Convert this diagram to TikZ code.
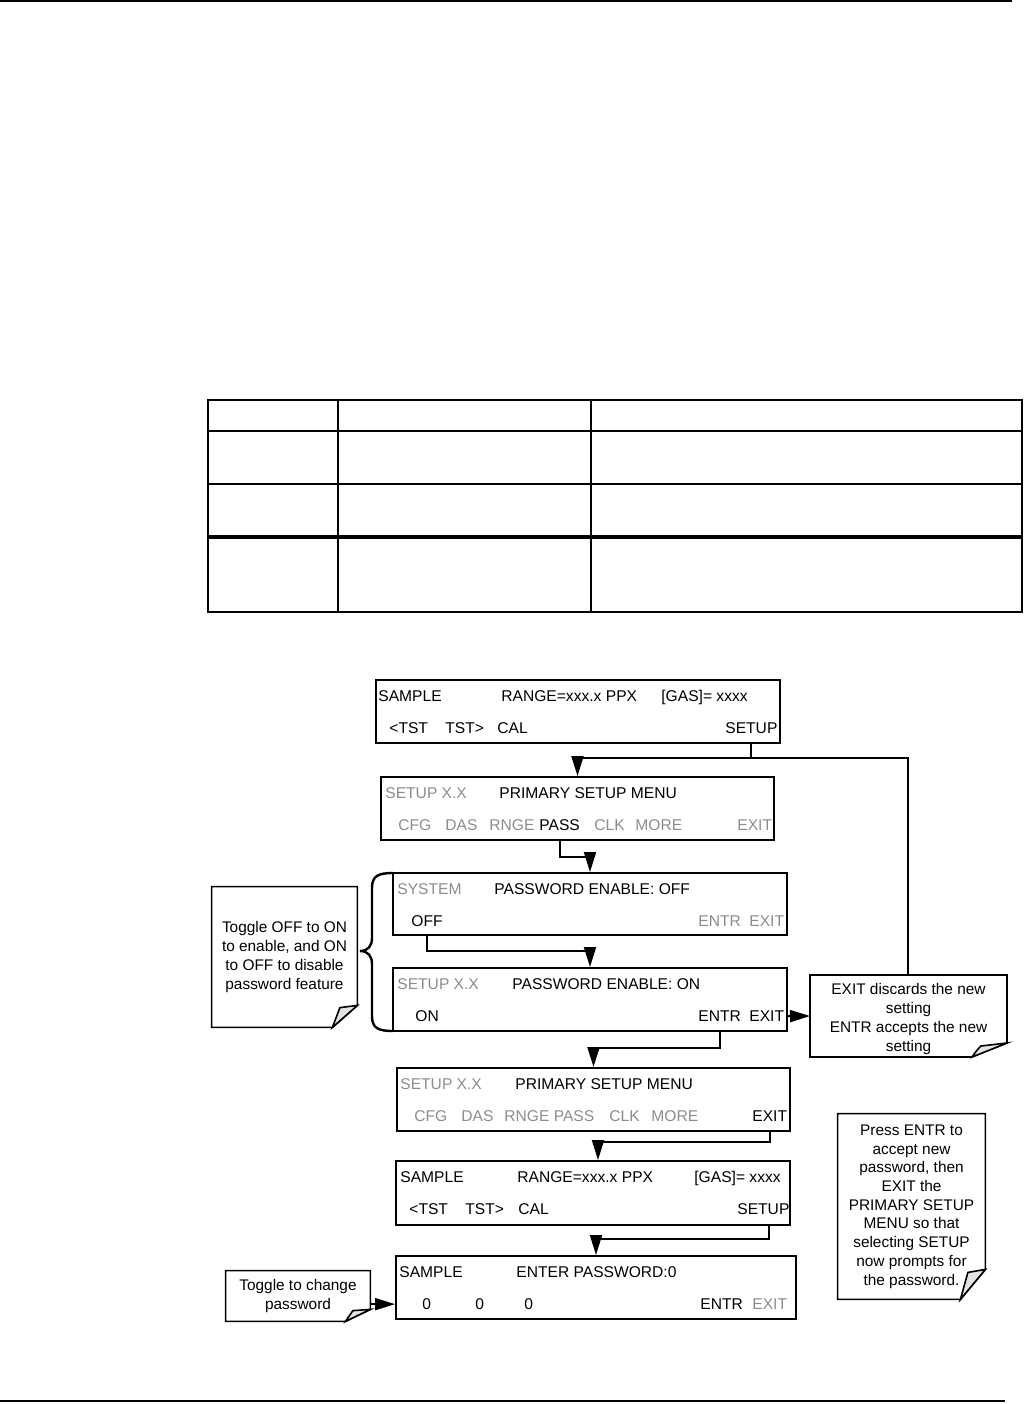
\documentclass[tikz,border=0pt]{standalone}
\usepackage{fontspec}
\setmainfont{Liberation Sans}
\usetikzlibrary{arrows.meta}

\definecolor{lcdgray}{gray}{0.55}

% note outline with a turned-up corner: node, fold width, fold height
\newcommand{\dogear}[3]{%
  \draw[line width=0.8pt] (#1.north west) -- (#1.north east)
    -- ([yshift=#3]#1.south east) -- ([xshift=-#2]#1.south east)
    -- (#1.south west) -- cycle;
  \filldraw[line width=0.8pt, fill=gray!22] ([yshift=#3]#1.south east)
    -- ([xshift=-0.7*#2,yshift=0.9*#3]#1.south east)
    .. controls ([xshift=-0.85*#2,yshift=0.45*#3]#1.south east) .. ([xshift=-#2]#1.south east)
    -- cycle;
}

\begin{document}
\begin{tikzpicture}[x=0.5pt,y=-0.5pt,
  screen/.style={draw, line width=1pt, inner sep=0},
  lcd/.style={anchor=base west, inner sep=0, font=\fontsize{7.8}{9}\selectfont},
  dim/.style={lcd, text=lcdgray},
  note/.style={align=center, inner sep=0, font=\fontsize{7.7}{9.35}\selectfont},
  link/.style={line width=1pt, -{Triangle[length=10pt,width=6pt]}},
  wire/.style={line width=1pt}]
\useasboundingbox (0,0) rectangle (1024,1404);

% page rules
\draw[line width=1pt] (0,1) -- (1012,1);
\draw[line width=1pt] (0,1401) -- (1005,1401);

% empty table
\draw[line width=1pt] (208,400) rectangle (1022,612);
\foreach \x in {338,591}
  \draw[line width=1pt] (\x,400) -- (\x,612);
\foreach \y in {431,484}
  \draw[line width=1pt] (208,\y) -- (1022,\y);
\draw[line width=1.6pt] (208,537) -- (1022,537);

% screens
\node[screen, minimum width=202pt, minimum height=31.5pt] (scrA) at (578,711.5) {};
\node[screen, minimum width=196.5pt, minimum height=31.5pt] (scrB) at (577.5,808.5) {};
\node[screen, minimum width=197pt, minimum height=31pt] (scrC) at (590,904) {};
\node[screen, minimum width=197pt, minimum height=31.5pt] (scrD) at (590,999.5) {};
\node[screen, minimum width=196.5pt, minimum height=31.5pt] (scrE) at (593.5,1099.5) {};
\node[screen, minimum width=197pt, minimum height=32pt] (scrF) at (593,1193) {};
\node[screen, minimum width=200pt, minimum height=31.5pt] (scrG) at (596,1287.5) {};

% screen A
\node[lcd] (aSample) at (378,701.5) {SAMPLE};
\node[lcd] (aRange) at (501,701.5) {RANGE=xxx.x PPX};
\node[lcd] (aGas) at (661,701.5) {[GAS]= xxxx};
\node[lcd] (aTstL) at (389,733.5) {<TST};
\node[lcd] (aTstR) at (445,733.5) {TST>};
\node[lcd] (aCal) at (497,733.5) {CAL};
\node[lcd] (aSetup) at (725,733.5) {SETUP};

% screen B
\node[dim] (bSetup) at (385,798.5) {SETUP X.X};
\node[lcd] (bTitle) at (499,798.5) {PRIMARY SETUP MENU};
\node[dim] (bCfg) at (398,830.5) {CFG};
\node[dim] (bDas) at (445,830.5) {DAS};
\node[dim] (bRnge) at (489,830.5) {RNGE};
\node[lcd] (bPass) at (539,830.5) {PASS};
\node[dim] (bClk) at (594,830.5) {CLK};
\node[dim] (bMore) at (635,830.5) {MORE};
\node[dim] (bExit) at (737,830.5) {EXIT};

% screen C
\node[dim] (cSystem) at (397,894.5) {SYSTEM};
\node[lcd] (cTitle) at (494,894.5) {PASSWORD ENABLE: OFF};
\node[lcd] (cOff) at (411,926.5) {OFF};
\node[dim] (cEntr) at (698,926.5) {ENTR};
\node[dim] (cExit) at (749,926.5) {EXIT};

% screen D
\node[dim] (dSetup) at (397,989.5) {SETUP X.X};
\node[lcd] (dTitle) at (512,989.5) {PASSWORD ENABLE: ON};
\node[lcd] (dOn) at (415,1021.5) {ON};
\node[lcd] (dEntr) at (698,1021.5) {ENTR};
\node[lcd] (dExit) at (749,1021.5) {EXIT};

% screen E
\node[dim] (eSetup) at (400,1089.5) {SETUP X.X};
\node[lcd] (eTitle) at (515,1089.5) {PRIMARY SETUP MENU};
\node[dim] (eCfg) at (414,1121.5) {CFG};
\node[dim] (eDas) at (461,1121.5) {DAS};
\node[dim] (eRnge) at (504,1121.5) {RNGE PASS};
\node[dim] (eClk) at (609,1121.5) {CLK};
\node[dim] (eMore) at (651,1121.5) {MORE};
\node[lcd] (eExit) at (752,1121.5) {EXIT};

% screen F
\node[lcd] (fSample) at (400,1182.5) {SAMPLE};
\node[lcd] (fRange) at (517,1182.5) {RANGE=xxx.x PPX};
\node[lcd] (fGas) at (694,1182.5) {[GAS]= xxxx};
\node[lcd] (fTstL) at (409,1214.5) {<TST};
\node[lcd] (fTstR) at (465,1214.5) {TST>};
\node[lcd] (fCal) at (518,1214.5) {CAL};
\node[lcd] (fSetup) at (737,1214.5) {SETUP};

% screen G
\node[lcd] (gSample) at (399,1277.5) {SAMPLE};
\node[lcd] (gTitle) at (516,1277.5) {ENTER PASSWORD:0};
\node[lcd] (gZeroA) at (422,1309.5) {0};
\node[lcd] (gZeroB) at (475,1309.5) {0};
\node[lcd] (gZeroC) at (524,1309.5) {0};
\node[lcd] (gEntr) at (700,1309.5) {ENTR};
\node[dim] (gExit) at (752,1309.5) {EXIT};

% notes
\node[note, minimum width=72.5pt, minimum height=70pt] (noteA) at (284.5,957)
  {Toggle OFF to ON\\to enable, and ON\\to OFF to disable\\password feature};
\node[note, minimum width=98.5pt, minimum height=41pt] (noteB) at (908.5,1019)
  {EXIT discards the new\\setting\\ENTR accepts the new\\setting};
\node[note, minimum width=73.5pt, minimum height=92.5pt] (noteC) at (911.5,1206.5)
  {Press ENTR to\\accept new\\password, then\\EXIT the\\PRIMARY SETUP\\MENU so that\\selecting SETUP\\now prompts for\\the password.};
\node[note, minimum width=72pt, minimum height=25pt] (noteD) at (298,1296)
  {Toggle to change\\password};
\dogear{noteA}{12.5pt}{11pt}
\draw[line width=0.8pt] (810,975) -- (1007,975) -- (1007,1043) -- (972,1057) -- (810,1057) -- cycle;
\filldraw[line width=0.8pt, fill=gray!22] (1007,1043) -- (981,1046)
  .. controls (977,1050) .. (972,1057) -- cycle;
\dogear{noteC}{12.5pt}{15pt}
\dogear{noteD}{12.5pt}{6pt}

% brace round the two enable screens
\draw[line width=1.2pt] (393,873) .. controls (378,873) and (372,876) .. (372,888)
  -- (372,938) .. controls (372,946) and (368,951) .. (360,951)
  .. controls (368,951) and (372,956) .. (372,964)
  -- (372,1016) .. controls (372,1028) and (378,1031) .. (393,1031);

% connectors
\draw[link] (aSetup |- scrA.south) -- ++(0,14) -| (scrB.north);
\draw[wire] (aSetup |- scrA.south) -- ++(0,14) -| (908,975);
\draw[link] (bPass |- scrB.south) -- ++(0,16) -| (scrC.north);
\draw[link] (cOff |- scrC.south) -- ++(0,15) -| (scrD.north);
\draw[link] (scrD.east |- dExit) -- (810,1016);
\draw[link] (dEntr |- scrD.south) -- ++(0,16) -| (scrE.north);
\draw[link] (eExit |- scrE.south) -- ++(0,10) -| ([xshift=2.5pt]scrF.north);
\draw[link] ([xshift=3pt]fSetup |- scrF.south) -- ++(0,13) -| (scrG.north);
\draw[link] (noteD.east |- gZeroA) -- (scrG.west |- gZeroA);
\end{tikzpicture}
\end{document}
